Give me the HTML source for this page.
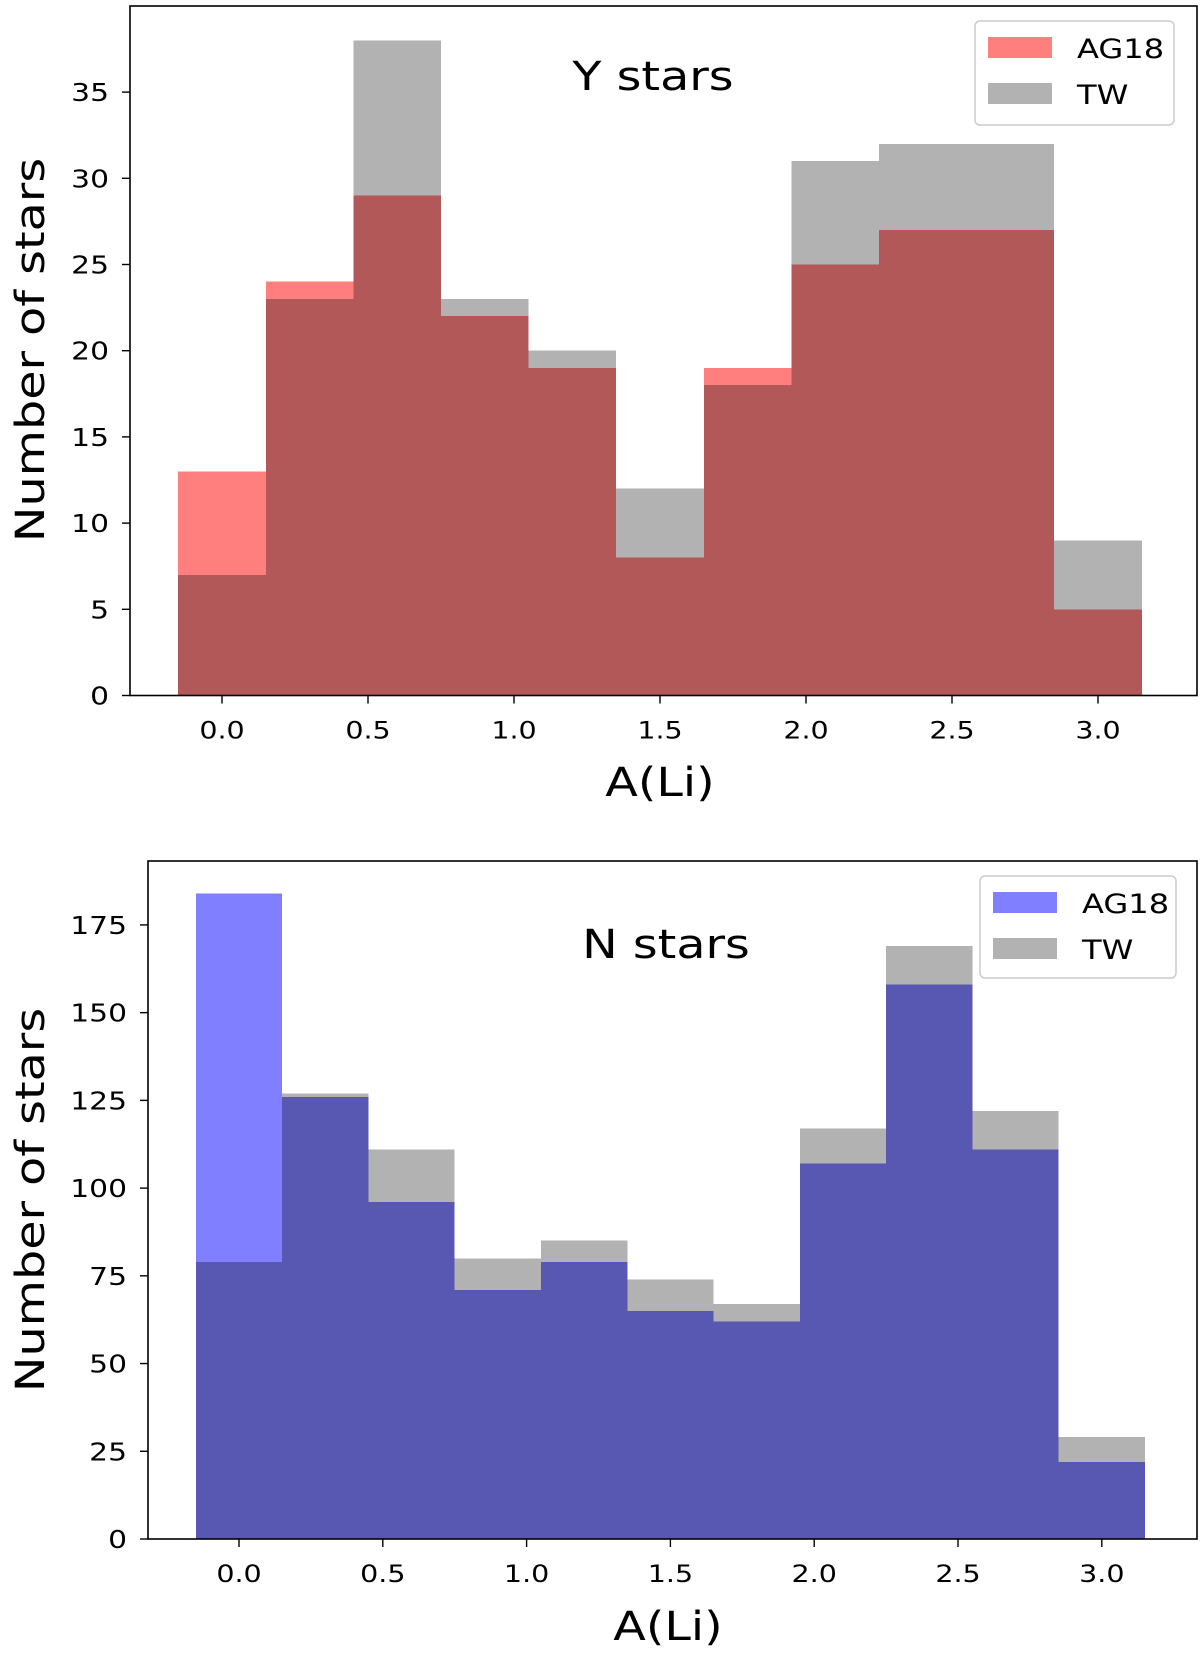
<!DOCTYPE html>
<html><head><meta charset="utf-8"><style>
html,body{margin:0;padding:0;background:#fff;}
svg{display:block;font-family:"DejaVu Sans","Liberation Sans",sans-serif;}
</style></head><body>
<svg id="chart" width="1200" height="1655" viewBox="0 0 1200 1655" xmlns="http://www.w3.org/2000/svg"></svg>
<script>
const binStart = -0.15;
const binWidth = 0.3;
const xTicks = [0.0, 0.5, 1.0, 1.5, 2.0, 2.5, 3.0];
const xTickLabels = ["0.0","0.5","1.0","1.5","2.0","2.5","3.0"];
const yAG18 = [13,24,29,22,19,8,19,25,27,27,5];
const yTW = [7,23,38,23,20,12,18,31,32,32,9];
const yTicksTop = [0,5,10,15,20,25,30,35];
const nAG18 = [184,126,96,71,79,65,62,107,158,111,22];
const nTW = [79,127,111,80,85,74,67,117,169,122,29];
const yTicksBottom = [0,25,50,75,100,125,150,175];

const NS="http://www.w3.org/2000/svg";
const svg=document.getElementById('chart');
const SX=1.19;
function mk(tag,attrs,parent){const e=document.createElementNS(NS,tag);for(const k in attrs)e.setAttribute(k,attrs[k]);(parent||svg).appendChild(e);return e;}
function txt(parent,x,y,size,anchor,str,rot){
  const t=mk('text',{x:0,y:0,'font-size':size,'text-anchor':anchor,
    transform:`translate(${x},${y})${rot?' rotate(-90)':''} scale(${SX},1)`},parent);
  t.textContent=str;return t;
}

function panel(cfg){
  const g=mk('g',{});
  
  
  const X=v=>cfg.x0+v*cfg.xs;
  const Y=v=>cfg.y0-v*cfg.ys;
  function hist(vals,fill,op,nm){
    vals.forEach((v,i)=>{
      const a=X(binStart+i*binWidth), b=X(binStart+(i+1)*binWidth);
      const r=mk('rect',{x:a,y:Y(v),width:b-a,height:Y(0)-Y(v),fill:fill,'fill-opacity':op,'shape-rendering':'crispEdges'},g);
      
      
    });
  }
  hist(cfg.ag,cfg.color,0.5,'ag18');
  hist(cfg.tw,'#000',0.3,'tw');
  const fr=mk('rect',{x:cfg.L,y:cfg.T,width:cfg.R-cfg.L,height:cfg.B-cfg.T,fill:'none',stroke:'#000','stroke-width':1.6},g);
  
  
  xTicks.forEach((t,i)=>{
    mk('line',{x1:X(t),x2:X(t),y1:cfg.B,y2:cfg.B+8,stroke:'#000','stroke-width':1.4},g);
    const tx=txt(g,X(t),cfg.B+43,24,'middle',xTickLabels[i]);
    
    
  });
  cfg.yt.forEach(t=>{
    mk('line',{x1:cfg.L-8,x2:cfg.L,y1:Y(t),y2:Y(t),stroke:'#000','stroke-width':1.4},g);
    const tx=txt(g,cfg.L-21,Y(t)+9,25,'end',String(t));
    
    
  });
  const xl=txt(g,cfg.xlx,cfg.xly,40,'middle','A(Li)');
  
  
  const yl=txt(g,cfg.ylx,cfg.yly,40,'middle','Number of stars',true);
  
  
  const tt=txt(g,cfg.tx,cfg.ty,40,'middle',cfg.title);
  
  
  const lg=mk('g',{},g);
  
  
  const l=cfg.lg;
  mk('rect',{x:l.x,y:l.y,width:l.w,height:l.h,rx:5,fill:'#fff','fill-opacity':0.8,stroke:'#ccc','stroke-width':1.5},lg);
  const e1=mk('rect',{x:l.x+13,y:l.y+16,width:64,height:21,fill:cfg.color,'fill-opacity':0.5},lg);
  
  
  const e2=mk('rect',{x:l.x+13,y:l.y+62,width:64,height:21,fill:'#000','fill-opacity':0.3},lg);
  
  
  const t1=txt(lg,l.x+102,l.y+37,27,'start','AG18');
  
  
  const t2=txt(lg,l.x+102,l.y+83,27,'start','TW');
  
  
}

panel({name:'y-stars-panel',x0:222,xs:292,y0:695.5,ys:17.24,L:130,R:1197,T:6,B:695.5,
  ag:yAG18,tw:yTW,color:'#ff0000',yt:yTicksTop,xlx:660,xly:796,ylx:44,yly:350,
  title:'Y stars',tx:653,ty:90,lg:{x:975,y:21,w:199,h:104}});
panel({name:'n-stars-panel',x0:239,xs:287.6,y0:1539,ys:3.509,L:148,R:1197,T:861,B:1539,
  ag:nAG18,tw:nTW,color:'#0000ff',yt:yTicksBottom,xlx:668,xly:1640,ylx:44,yly:1200,
  title:'N stars',tx:666,ty:958,lg:{x:980,y:876,w:196,h:102}});
</script>
</body></html>
